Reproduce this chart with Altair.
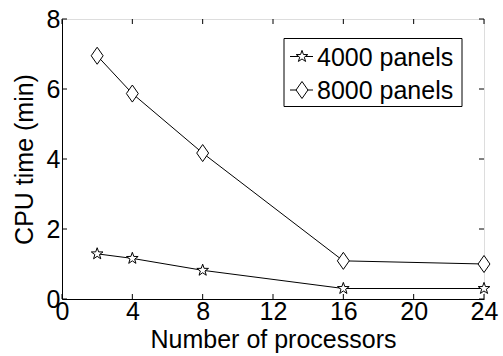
import altair as alt
import pandas as pd

processors = [2, 4, 8, 16, 24]
series_names = ["4000 panels", "8000 panels"]
time_4000 = [1.29, 1.16, 0.82, 0.30, 0.30]
time_8000 = [6.95, 5.87, 4.17, 1.09, 1.00]
x_ticks = [0, 4, 8, 12, 16, 20, 24]
y_ticks = [0, 2, 4, 6, 8]

W, H = 422, 280
FONT = "Liberation Sans"
FS = 25

df = pd.DataFrame({
    "procs": processors * 2,
    "time": time_4000 + time_8000,
    "series": [series_names[0]] * 5 + [series_names[1]] * 5,
})
df4 = df[df.series == series_names[0]]
df8 = df[df.series == series_names[1]]

diamond = "M0,-1L0.7,0L0,1L-0.7,0Z"
star = ("M0,-1L0.235,-0.324L0.951,-0.309L0.38,0.124L0.588,0.809L0,0.4"
        "L-0.588,0.809L-0.38,0.124L-0.951,-0.309L-0.235,-0.324Z")
STAR_SIZE = 150
DIA_SIZE = 290

xs = alt.Scale(domain=[0, 24], nice=False, zero=False)
ys = alt.Scale(domain=[0, 8], nice=False, zero=False)

x_axis = alt.Axis(values=x_ticks, ticks=False, grid=False, labelFont=FONT, labelFontSize=FS,
                  labelColor="black", labelPadding=0, title="Number of processors",
                  titleFont=FONT, titleFontSize=FS, titleFontWeight="normal", titleColor="black",
                  titlePadding=3, domainColor="black", labelFlush=False, labelOverlap=False)
y_axis = alt.Axis(values=y_ticks, ticks=False, grid=False, labelFont=FONT, labelFontSize=FS,
                  labelColor="black", labelPadding=2, title="CPU time (min)",
                  titleFont=FONT, titleFontSize=FS, titleFontWeight="normal", titleColor="black",
                  titlePadding=9, domainColor="black", labelFlush=False, labelOverlap=False)

lines = alt.Chart(df).mark_line(color="black", strokeWidth=1).encode(
    x=alt.X("procs:Q", scale=xs, axis=x_axis),
    y=alt.Y("time:Q", scale=ys, axis=y_axis),
    detail="series:N",
)

stars = alt.Chart(df4).mark_point(shape=star, size=STAR_SIZE, filled=True, fill="white",
                                  stroke="black", strokeWidth=1, opacity=1).encode(
    x=alt.X("procs:Q", scale=xs), y=alt.Y("time:Q", scale=ys))
diamonds = alt.Chart(df8).mark_point(shape=diamond, size=DIA_SIZE, filled=True, fill="white",
                                     stroke="black", strokeWidth=1, opacity=1).encode(
    x=alt.X("procs:Q", scale=xs), y=alt.Y("time:Q", scale=ys))

xt = pd.DataFrame({"v": x_ticks})
yt = pd.DataFrame({"v": y_ticks})
tick_len = 5
xb = alt.Chart(xt).mark_rule(color="black", strokeWidth=1).encode(
    x=alt.X("v:Q", scale=xs), y=alt.value(H), y2=alt.value(H - tick_len))
xtp = alt.Chart(xt).mark_rule(color="black", strokeWidth=1).encode(
    x=alt.X("v:Q", scale=xs), y=alt.value(0), y2=alt.value(tick_len))
yl = alt.Chart(yt).mark_rule(color="black", strokeWidth=1).encode(
    y=alt.Y("v:Q", scale=ys), x=alt.value(0), x2=alt.value(tick_len))
yr = alt.Chart(yt).mark_rule(color="black", strokeWidth=1).encode(
    y=alt.Y("v:Q", scale=ys), x=alt.value(W), x2=alt.value(W - tick_len))

# Legend (manual)
leg = pd.DataFrame({"name": series_names})
box = alt.Chart(leg.head(1)).mark_rect(fill="white", stroke="black", strokeWidth=1).encode(
    x=alt.value(222), x2=alt.value(400), y=alt.value(19.5), y2=alt.value(87.5))
row_y = [37.5, 71]
leg_rows = []
for i, nm in enumerate(series_names):
    d = pd.DataFrame({"name": [nm]})
    leg_rows.append(alt.Chart(d).mark_rule(color="black", strokeWidth=1).encode(
        x=alt.value(228), x2=alt.value(251), y=alt.value(row_y[i])))
    shp = star if i == 0 else diamond
    sz = STAR_SIZE if i == 0 else DIA_SIZE
    leg_rows.append(alt.Chart(d).mark_point(shape=shp, size=sz, filled=True, fill="white",
                                            stroke="black", strokeWidth=1, opacity=1).encode(
        x=alt.value(240), y=alt.value(row_y[i])))
    leg_rows.append(alt.Chart(d).mark_text(align="left", baseline="middle", font=FONT,
                                           fontSize=FS, color="black").encode(
        x=alt.value(255), y=alt.value(row_y[i] + 1), text="name:N"))

chart = alt.layer(lines, xb, xtp, yl, yr, stars, diamonds, box, *leg_rows).properties(
    width=W, height=H,
    autosize=alt.AutoSizeParams(type="none"),
    padding={"left": 62, "top": 19, "right": 19, "bottom": 57},
).configure_view(stroke="black", strokeWidth=1).configure(background="white")

chart.save("out.html", embed_options={"renderer": "svg", "actions": False})
